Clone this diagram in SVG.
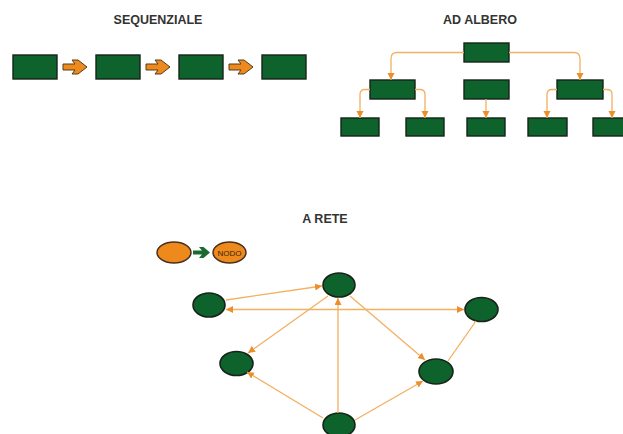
<svg xmlns="http://www.w3.org/2000/svg" width="623" height="434" viewBox="0 0 623 434">
<style>
.title{font-family:"Liberation Sans",Arial,sans-serif;font-weight:bold;font-size:12.5px;fill:#333333;text-anchor:middle}
.box{fill:#0d632b;stroke:#18231a;stroke-width:1.4}
.node{fill:#0d632b;stroke:#18231a;stroke-width:1.6}
.onode{fill:#ee8a1c;stroke:#4a3020;stroke-width:1.5}
.conn{fill:none;stroke:#f2b060;stroke-width:1.3}
.barrow{fill:#ec8a1e;stroke:#5a3a1a;stroke-width:1}
</style>
<defs>
<marker id="ah" markerUnits="userSpaceOnUse" markerWidth="8" markerHeight="8" refX="7" refY="3.5" orient="auto-start-reverse">
<path d="M0,0 L7,3.5 L0,7 Z" fill="#ec8f2a"/>
</marker>
</defs>
<rect width="623" height="434" fill="#ffffff"/>

<text class="title" x="158" y="24">SEQUENZIALE</text>
<text class="title" x="480" y="24">AD ALBERO</text>
<text class="title" x="325" y="223">A RETE</text>

<g id="seq1"><rect class="box" x="13" y="55" width="44" height="24"/></g>
<g id="seq2"><rect class="box" x="96" y="55" width="44" height="24"/></g>
<g id="seq3"><rect class="box" x="179" y="55" width="44" height="24"/></g>
<g id="seq4"><rect class="box" x="262" y="55" width="44" height="24"/></g>

<g id="tree-root"><rect class="box" x="464" y="43" width="45" height="19"/></g>
<g id="tree-l"><rect class="box" x="370" y="80" width="45" height="19"/></g>
<g id="tree-m"><rect class="box" x="464" y="80" width="45" height="19"/></g>
<g id="tree-r"><rect class="box" x="557" y="80" width="46" height="19"/></g>
<g id="tree-l1"><rect class="box" x="341" y="118" width="38" height="18"/></g>
<g id="tree-l2"><rect class="box" x="406" y="118" width="38" height="18"/></g>
<g id="tree-m1"><rect class="box" x="467" y="118" width="38" height="18"/></g>
<g id="tree-r1"><rect class="box" x="528" y="118" width="39" height="18"/></g>
<g id="tree-r2"><rect class="box" x="593" y="118" width="39" height="18"/></g>

<g id="legend-a"><ellipse class="onode" cx="174" cy="252.5" rx="17" ry="10.5"/></g>
<g id="legend-nodo"><ellipse class="onode" cx="229.5" cy="252.5" rx="16.5" ry="10.5"/>
<text x="229.5" y="255.5" font-family="Liberation Sans Narrow,Liberation Sans,Arial,sans-serif" font-size="8" fill="#3a2414" text-anchor="middle">NODO</text></g>

<g id="net-top"><ellipse class="node" cx="339" cy="285" rx="16" ry="12"/></g>
<g id="net-left"><ellipse class="node" cx="209" cy="305" rx="16" ry="12"/></g>
<g id="net-right"><ellipse class="node" cx="481.5" cy="309.5" rx="16.5" ry="12"/></g>
<g id="net-midleft"><ellipse class="node" cx="236.5" cy="363.5" rx="16.5" ry="12"/></g>
<g id="net-midright"><ellipse class="node" cx="436" cy="371.5" rx="17" ry="12.5"/></g>
<g id="net-bottom"><ellipse class="node" cx="339" cy="425" rx="16" ry="12"/></g>

<g id="connectors">
<path class="barrow" d="M63,64 H75 L72,60 H78 L87,67 L78,74 H72 L75,70 H63 Z"/>
<path class="barrow" d="M146,64 H158 L155,60 H161 L170,67 L161,74 H155 L158,70 H146 Z"/>
<path class="barrow" d="M229,64 H241 L238,60 H244 L253,67 L244,74 H238 L241,70 H229 Z"/>
<path d="M193,250.5 H202 L199,247 H203.5 L210,252.5 L203.5,258 H199 L202,254.5 H193 Z" fill="#1a6a30"/>

<path class="conn" d="M464,52.5 H397 Q391,52.5 391,58.5 V80" marker-end="url(#ah)"/>
<path class="conn" d="M509,52.5 H574 Q580,52.5 580,58.5 V80" marker-end="url(#ah)"/>
<path class="conn" d="M370,89.5 H365 Q360,89.5 360,94.5 V118" marker-end="url(#ah)"/>
<path class="conn" d="M415,89.5 H420 Q425,89.5 425,94.5 V118" marker-end="url(#ah)"/>
<path class="conn" d="M486,99 V118" marker-end="url(#ah)"/>
<path class="conn" d="M557,89.5 H552 Q547,89.5 547,94.5 V118" marker-end="url(#ah)"/>
<path class="conn" d="M603,89.5 H607 Q612,89.5 612,94.5 V118" marker-end="url(#ah)"/>

<path class="conn" d="M226,300 L322,286" marker-end="url(#ah)"/>
<path class="conn" d="M226,309.5 H464" marker-start="url(#ah)" marker-end="url(#ah)"/>
<path class="conn" d="M328,296 L248,353" marker-end="url(#ah)"/>
<path class="conn" d="M350,296 L425,360" marker-end="url(#ah)"/>
<path class="conn" d="M338,413 V298" marker-end="url(#ah)"/>
<path class="conn" d="M323,418 L247,372" marker-end="url(#ah)"/>
<path class="conn" d="M355,420 L423,381" marker-end="url(#ah)"/>
<path class="conn" d="M476,321 L448,361"/>
</g>
</svg>
